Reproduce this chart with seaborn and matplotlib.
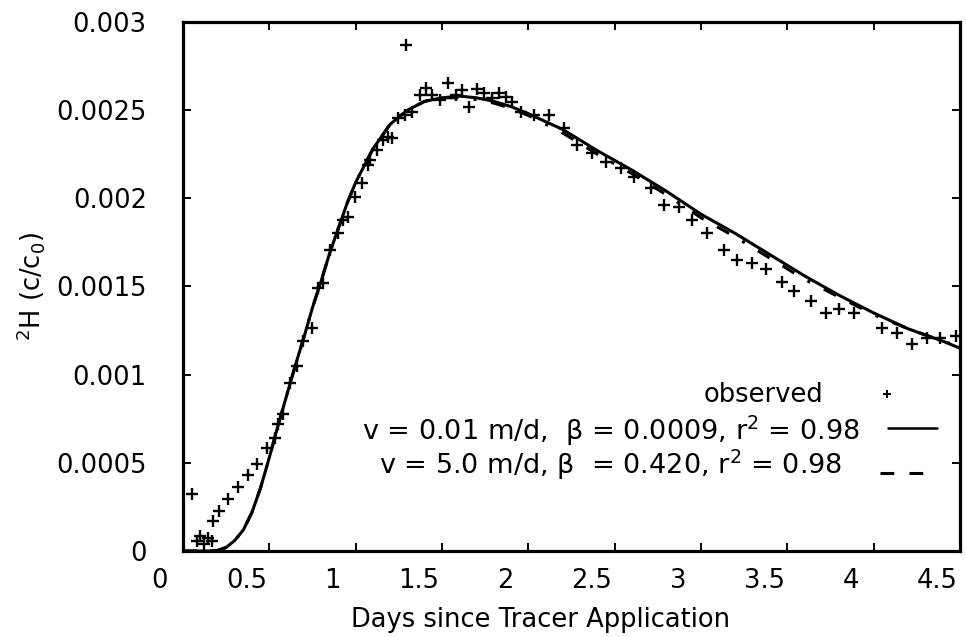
import numpy as np
import matplotlib
matplotlib.use("Agg")
import matplotlib.pyplot as plt
import matplotlib.transforms as mtransforms
import seaborn as sns

# observed tracer breakthrough (days, c/c0)
obs_days = [0.052, 0.081, 0.098, 0.121, 0.145, 0.168, 0.173, 0.208, 0.260, 0.318,
            0.376, 0.428, 0.486, 0.532, 0.549, 0.578, 0.618, 0.659, 0.694, 0.746,
            0.780, 0.809, 0.850, 0.896, 0.925, 0.954, 0.994, 1.035, 1.069, 1.081,
            1.121, 1.156, 1.185, 1.208, 1.243, 1.283, 1.289, 1.324, 1.370, 1.410,
            1.445, 1.486, 1.532, 1.584, 1.618, 1.659, 1.705, 1.746, 1.792, 1.832,
            1.873, 1.908, 1.960, 2.035, 2.121, 2.208, 2.283, 2.370, 2.451, 2.538,
            2.613, 2.711, 2.786, 2.873, 2.948, 3.035, 3.133, 3.208, 3.295, 3.376,
            3.468, 3.538, 3.636, 3.723, 3.798, 3.884, 4.046, 4.133, 4.220, 4.306,
            4.387, 4.474]
obs_conc = [0.000324, 0.000057, 0.000085, 0.000040, 0.000074, 0.000057, 0.000170, 0.000227, 0.000295, 0.000364,
            0.000432, 0.000494, 0.000585, 0.000642, 0.000722, 0.000778, 0.000955, 0.001051, 0.001193, 0.001267,
            0.001494, 0.001517, 0.001705, 0.001801, 0.001875, 0.001892, 0.002006, 0.002085, 0.002188, 0.002216,
            0.002273, 0.002330, 0.002347, 0.002341, 0.002455, 0.002472, 0.002869, 0.002489, 0.002585, 0.002625,
            0.002585, 0.002557, 0.002653, 0.002585, 0.002614, 0.002517, 0.002619, 0.002597, 0.002568, 0.002597,
            0.002574, 0.002545, 0.002489, 0.002472, 0.002472, 0.002398, 0.002301, 0.002256, 0.002205, 0.002170,
            0.002119, 0.002057, 0.001960, 0.001949, 0.001875, 0.001801, 0.001705, 0.001648, 0.001636, 0.001602,
            0.001523, 0.001477, 0.001420, 0.001347, 0.001375, 0.001347, 0.001267, 0.001239, 0.001176, 0.001210,
            0.001210, 0.001222]

# model fits
fit_days = [0.0, 0.15, 0.20, 0.25, 0.30, 0.35, 0.40, 0.45, 0.50, 0.55,
            0.60, 0.65, 0.70, 0.75, 0.80, 0.85, 0.90, 0.95, 1.00, 1.10,
            1.20, 1.30, 1.40, 1.50, 1.60, 1.70, 1.80, 1.90, 2.00, 2.20,
            2.40, 2.60, 2.80, 3.00, 3.20, 3.40, 3.60, 3.80, 4.00, 4.20,
            4.40, 4.50]
fit_slow = [0.0, 0.0, 0.000003, 0.00002, 0.00006, 0.00012, 0.00022, 0.00036, 0.00053, 0.00071,
            0.00088, 0.00105, 0.00121, 0.00138, 0.00153, 0.00169, 0.00183, 0.00197, 0.00209, 0.00228,
            0.00242, 0.00250, 0.00255, 0.00257, 0.00258, 0.00257, 0.00255, 0.00252, 0.00248, 0.00239,
            0.00227, 0.00216, 0.00204, 0.00191, 0.00180, 0.00168, 0.00156, 0.00145, 0.00135, 0.00126,
            0.00119, 0.00115]
fit_fast = [0.0, 0.0, 0.000003, 0.00002, 0.00006, 0.00012, 0.00022, 0.00036, 0.00053, 0.00071,
            0.00088, 0.00105, 0.00121, 0.00138, 0.00153, 0.00169, 0.00183, 0.00197, 0.00209, 0.00228,
            0.00242, 0.00250, 0.00255, 0.00257, 0.00257, 0.00256, 0.00254, 0.00251, 0.00247, 0.00237,
            0.00225, 0.00214, 0.00202, 0.00189, 0.00178, 0.00166, 0.00154, 0.00144, 0.00134, 0.00126,
            0.00119, 0.00116]

x_ticks = [0, 0.5, 1, 1.5, 2, 2.5, 3, 3.5, 4, 4.5]
x_labels = ["0", "0.5", "1", "1.5", "2", "2.5", "3", "3.5", "4", "4.5"]
y_ticks = [0, 0.0005, 0.001, 0.0015, 0.002, 0.0025, 0.003]
y_labels = ["0", "0.0005", "0.001", "0.0015", "0.002", "0.0025", "0.003"]

sns.set_style("ticks", {"axes.edgecolor": "black", "text.color": "black",
                        "axes.labelcolor": "black", "xtick.color": "black",
                        "ytick.color": "black"})
plt.rcParams["font.family"] = ["DejaVu Sans"]
plt.rcParams["mathtext.fontset"] = "dejavusans"

fig = plt.figure(figsize=(9.66, 6.37), dpi=100)
ax = fig.add_axes([0.1894, 0.135, 0.8044, 0.8305])

dash_dot = (0, (4.5, 5, 4.5, 5, 1, 5))

sns.lineplot(x=fit_days, y=fit_slow, color="black", linewidth=2.2, ax=ax)
sns.lineplot(x=fit_days, y=fit_fast, color="black", linewidth=2.2, linestyle=dash_dot, ax=ax)
sns.scatterplot(x=obs_days, y=obs_conc, marker="+", s=75, color="black", linewidth=1.7, ax=ax)

ax.set_xlim(0, 4.5)
ax.set_ylim(0, 0.003)
ax.set_xticks(x_ticks)
ax.set_xticklabels(x_labels)
ax.set_yticks(y_ticks)
ax.set_yticklabels(y_labels)

for s in ax.spines.values():
    s.set_linewidth(2.3)
    s.set_color("black")
    s.set_visible(True)
ax.tick_params(axis="both", direction="in", length=6, width=1.4, labelsize=18.5,
               top=True, right=True, colors="black")
ax.tick_params(axis="x", pad=12)
ax.tick_params(axis="y", pad=26)

# tick labels in the scan sit a little left of their ticks
shift = mtransforms.ScaledTranslation(-23 / 100, 0, fig.dpi_scale_trans)
for lab in ax.get_xticklabels():
    lab.set_transform(lab.get_transform() + shift)

ax.set_xlabel("Days since Tracer Application", fontsize=18.5, color="black")
ax.set_ylabel(r"$^{2}$H (c/c$_{0}$)", fontsize=18.5, color="black")
ax.xaxis.set_label_coords(0.46, -0.105)
ax.yaxis.set_label_coords(-0.175, 0.5)

# key
ax.text(0.824, 0.295, "observed", transform=ax.transAxes, ha="right", va="center",
        fontsize=18.5, color="black")
ax.text(0.871, 0.228, "v = 0.01 m/d,  β = 0.0009, r$^{2}$ = 0.98",
        transform=ax.transAxes, ha="right", va="center", fontsize=19.5, color="black")
ax.text(0.849, 0.163, "v = 5.0 m/d, β  = 0.420, r$^{2}$ = 0.98",
        transform=ax.transAxes, ha="right", va="center", fontsize=19.5, color="black")
ax.plot([0.906], [0.297], transform=ax.transAxes, marker="+", ms=6, mew=1.4, color="black")
ax.plot([0.907, 0.970], [0.232, 0.232], transform=ax.transAxes, color="black", lw=1.8)
ax.plot([0.897, 0.965], [0.148, 0.148], transform=ax.transAxes, color="black", lw=2.2,
        linestyle=dash_dot)

fig.savefig("out.png", dpi=100, facecolor="white")
